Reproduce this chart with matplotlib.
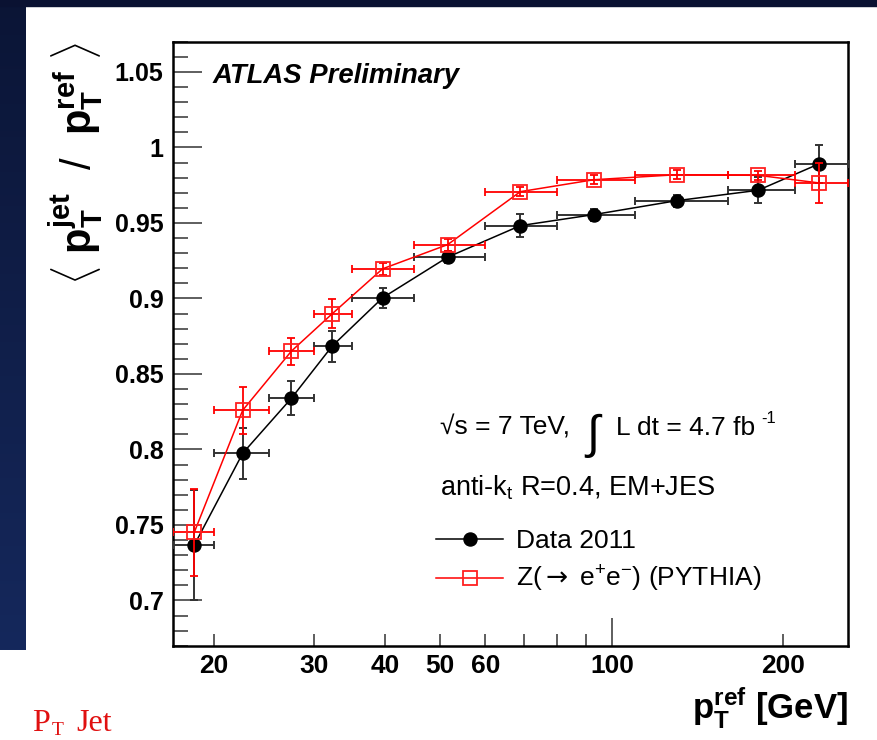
"""Z+jet direct balance: <pT jet / pT ref> vs pT ref, data vs PYTHIA."""
import numpy as np
import matplotlib

matplotlib.use("Agg")
import matplotlib.pyplot as plt  # noqa: E402
from matplotlib.patches import Rectangle  # noqa: E402
from matplotlib.ticker import FixedLocator, FixedFormatter, MultipleLocator, FuncFormatter  # noqa: E402

plt.rcParams["font.family"] = ["Liberation Sans", "DejaVu Sans"]
plt.rcParams["mathtext.fontset"] = "custom"
plt.rcParams["mathtext.rm"] = "Liberation Sans"
plt.rcParams["mathtext.it"] = "Liberation Sans:italic"
plt.rcParams["mathtext.bf"] = "Liberation Sans:bold"
plt.rcParams["mathtext.sf"] = "DejaVu Sans"  # used only for the arrow glyph

# pT(ref) bins [GeV] and mean pT(ref) in each bin
pt_lo = [17, 20, 25, 30, 35, 45, 60, 80, 110, 160, 210]
pt_hi = [20, 25, 30, 35, 45, 60, 80, 110, 160, 210, 260]
pt_mean = [18.5, 22.5, 27.4, 32.3, 39.6, 51.5, 69.1, 93.0, 129.9, 180.6, 230.7]

# mean response, data 2011
data_resp = [0.7366, 0.7974, 0.8339, 0.8684, 0.9004, 0.9273, 0.9482, 0.9555, 0.9647, 0.9716, 0.9890]
data_err = [0.0366, 0.0168, 0.0113, 0.0103, 0.0068, 0.0040, 0.0077, 0.0040, 0.0040, 0.0085, 0.0125]

# mean response, Z(->ee) PYTHIA
mc_resp = [0.7450, 0.8259, 0.8651, 0.8898, 0.9196, 0.9356, 0.9707, 0.9786, 0.9819, 0.9815, 0.9765]
mc_err = [0.0287, 0.0157, 0.0090, 0.0096, 0.0040, 0.0040, 0.0030, 0.0030, 0.0030, 0.0030, 0.0130]

x_labelled = [20, 30, 40, 50, 60, 200]
x_unlabelled = [70, 80, 90]

W, H = 878, 740
fig = plt.figure(figsize=(W / 100, H / 100), dpi=100)
fig.patch.set_facecolor("white")


def fx(px):
    return px / W


def fy(py):
    return 1 - py / H


# slide backdrop: dark strip along the top, gradient strip on the left
fig.patches.append(Rectangle((0, fy(6)), 1, 6 / H, transform=fig.transFigure,
                             color="#0a1232", zorder=0))
bg = fig.add_axes([0, fy(650), fx(26), 650 / H])
grad = np.linspace(0, 1, 256)[:, None]
top_c = np.array([0x0b, 0x15, 0x36]) / 255
bot_c = np.array([0x15, 0x28, 0x5c]) / 255
bg.imshow((top_c + grad[..., None] * (bot_c - top_c)) * np.ones((1, 2, 1)),
          aspect="auto", extent=(0, 1, 0, 1))
bg.set_axis_off()

ax = fig.add_axes([fx(173.3), fy(645.7), fx(848.3 - 173.3), (645.7 - 41.7) / H])
ax.set_xscale("log")
ax.set_xlim(17, 260)
ax.set_ylim(0.67, 1.07)

x = np.array(pt_mean)
xerr = [x - np.array(pt_lo), np.array(pt_hi) - x]

ax.errorbar(x, data_resp, xerr=xerr, yerr=data_err, fmt="none",
            ecolor="#333333", elinewidth=1.4, capsize=3, capthick=1.4, zorder=3)
ax.plot(x, data_resp, "-", color="black", lw=1.1, marker="o", ms=9.4,
        mfc="black", mec="black", zorder=4, label="Data 2011")

ax.errorbar(x, mc_resp, xerr=xerr, yerr=mc_err, fmt="none",
            ecolor="#ff0000", elinewidth=1.3, capsize=3, capthick=1.3, zorder=5)
ax.plot(x, mc_resp, "-", color="#ff0000", lw=1.1, marker="s", ms=10.6,
        mfc="none", mec="#ff2020", mew=1.3, zorder=6,
        label=r"Z($\mathsf{\rightarrow}$ e$^{+}$e$^{-}$) (PYTHIA)")

# axes frame and ticks
for s in ax.spines.values():
    s.set_linewidth(1.8)
ax.xaxis.set_major_locator(FixedLocator([100]))
ax.xaxis.set_major_formatter(FixedFormatter(["100"]))
ax.xaxis.set_minor_locator(FixedLocator(x_labelled + x_unlabelled))
ax.xaxis.set_minor_formatter(FuncFormatter(lambda v, p: f"{v:g}" if v in x_labelled else ""))
ax.yaxis.set_major_locator(MultipleLocator(0.05))
ax.yaxis.set_minor_locator(MultipleLocator(0.01))
ax.yaxis.set_major_formatter(FuncFormatter(lambda v, p: f"{round(v, 2):g}"))

ax.tick_params(axis="both", which="both", direction="in", color="#333333",
               width=1.1, top=False, right=False)
ax.tick_params(axis="y", which="major", length=21, pad=7, labelsize=18)
ax.tick_params(axis="y", which="minor", length=10.5)
ax.tick_params(axis="x", which="major", length=20, pad=6, labelsize=19)
ax.tick_params(axis="x", which="minor", length=9, pad=6, labelsize=19)
for lbl in ax.get_xticklabels(which="both") + ax.get_yticklabels():
    lbl.set_fontweight("bold")

ax.set_xlabel(r"$\mathbf{p}_{\mathbf{T}}^{\mathbf{ref}}$ [GeV]", fontsize=25,
              fontweight="bold", loc="right", labelpad=5)
ax.set_ylabel(r"$\langle\ \mathbf{p}_{\mathbf{T}}^{\mathbf{jet}}\ \ /\ \ "
              r"\mathbf{p}_{\mathbf{T}}^{\mathbf{ref}}\ \rangle$",
              fontsize=30, loc="top", labelpad=6)

fig.text(fx(213), fy(83), "ATLAS Preliminary", fontsize=19.8, fontweight="bold",
         style="italic", va="baseline")

fig.text(fx(440), fy(435), "√s = 7 TeV,", fontsize=19, va="baseline")
fig.text(fx(586), fy(448), "∫", fontsize=34, va="baseline")
fig.text(fx(616), fy(435), "L dt = 4.7 fb", fontsize=19, va="baseline")
fig.text(fx(761), fy(423), "-1", fontsize=12, va="baseline")
fig.text(fx(440), fy(495), r"anti-k$_{\mathrm{t}}$ R=0.4, EM+JES", fontsize=19.5, va="baseline")

leg = ax.legend(loc="upper left", bbox_to_anchor=(fx(436 - 173.3) / (fx(848.3 - 173.3)),
                                                  (645.7 - 529) / (645.7 - 41.7)),
                frameon=False, fontsize=19, handlelength=2.55, handletextpad=0.5,
                labelspacing=0.42, borderpad=0, borderaxespad=0)

fig.text(fx(32), fy(731), "P", fontsize=23, color="#e01010",
         family="Liberation Serif", va="baseline")
fig.text(fx(51.5), fy(735), "T", fontsize=14, color="#e01010",
         family="Liberation Serif", va="baseline")
fig.text(fx(76), fy(731), "Jet", fontsize=23, color="#e01010",
         family="Liberation Serif", va="baseline")

fig.savefig("out.png", dpi=100)
